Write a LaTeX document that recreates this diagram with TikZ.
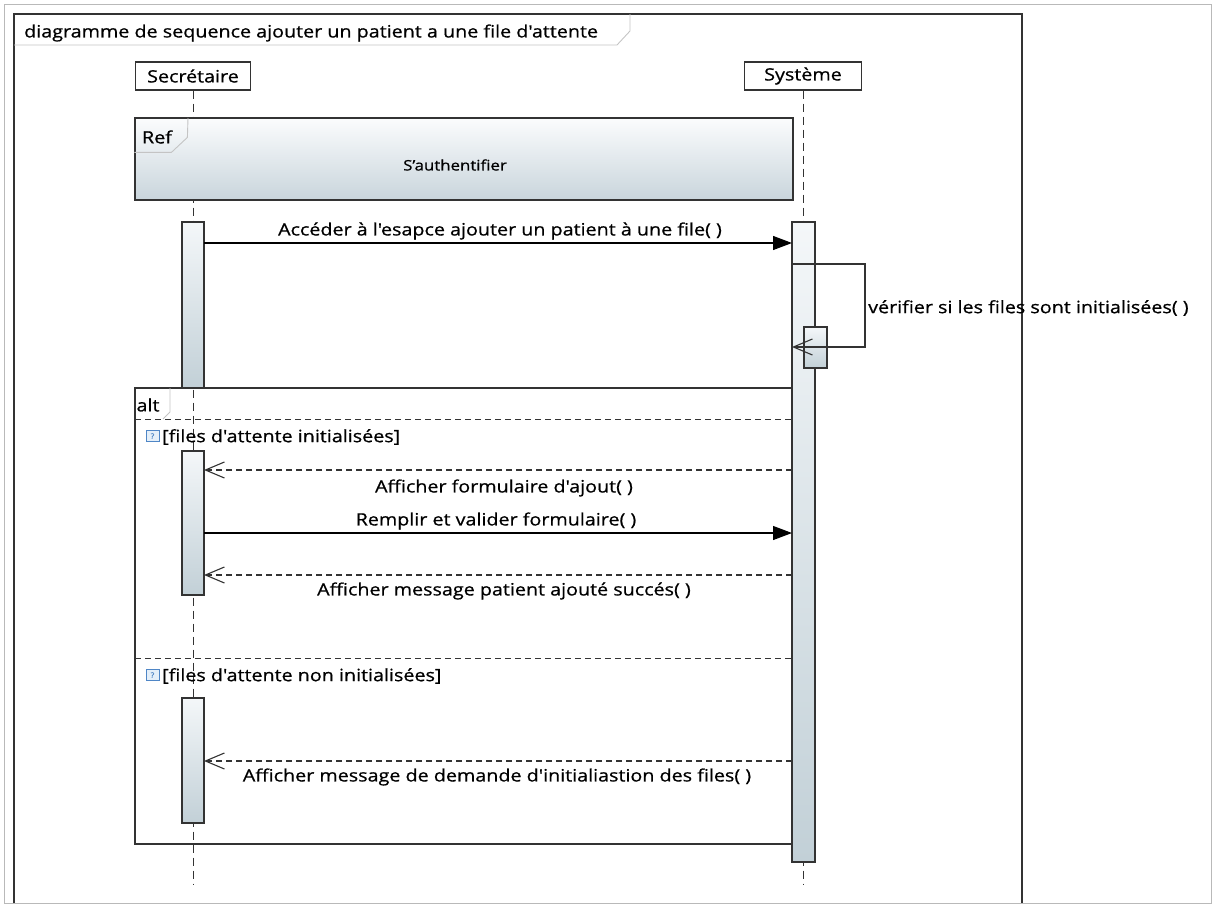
\documentclass[tikz,border=0pt]{standalone}
\usepackage{fontspec}
\newfontfamily\uifont{Open Sans}[FakeStretch=1.16, FakeBold=0.7]
\usetikzlibrary{arrows.meta}
\definecolor{lineclr}{HTML}{333333}
\definecolor{acttop}{HTML}{F4F7F9}
\definecolor{actbot}{HTML}{C2D0D7}
\definecolor{reftop}{HTML}{FBFCFD}
\definecolor{refbot}{HTML}{C9D5DC}
\definecolor{tabgray}{HTML}{C4C4C4}
\definecolor{iconfill}{HTML}{E4EFF9}
\definecolor{iconedge}{HTML}{4F86C6}

\tikzset{
  txt/.style={font=\uifont\fontsize{17}{20}\selectfont, inner sep=0pt},
  small/.style={font=\uifont\fontsize{14.5}{17}\selectfont, inner sep=0pt},
  headbox/.style={draw=lineclr, line width=1.2pt, fill=white, minimum width=115pt, minimum height=28pt, inner sep=0pt, font=\uifont\fontsize{17}{20}\selectfont},
  lifeline/.style={draw=lineclr, line width=1pt, dash pattern=on 8pt off 5pt},
  actbox/.style={draw=lineclr, line width=1.2pt, top color=acttop, bottom color=actbot, minimum width=22pt, inner sep=0pt},
  sync/.style={draw=black, line width=1.2pt, -{Triangle[length=19pt,width=14pt]}},
  reply/.style={draw=lineclr, line width=1.1pt, dash pattern=on 6pt off 4pt, -{Straight Barb[length=19pt,width=16pt,line width=1.1pt]}},
  selfret/.style={draw=lineclr, line width=1.2pt, -{Straight Barb[length=19pt,width=16pt,line width=1.1pt]}},
  fragline/.style={draw=lineclr, line width=1.2pt},
  guardsep/.style={draw=lineclr, line width=1pt, dash pattern=on 6pt off 4pt},
  tabline/.style={draw=tabgray, line width=0.9pt},
  guardicon/.style={draw=iconedge, fill=iconfill, line width=0.8pt, minimum width=13pt, minimum height=11pt, inner sep=0pt, font=\uifont\fontsize{7}{7}\selectfont, text=iconedge}
}

\begin{document}
\begin{tikzpicture}[x=1pt,y=-1pt]
\useasboundingbox (0,0) rectangle (1213,905);

% outer border and diagram frame
\draw[draw=gray!55, line width=0.9pt] (4,4) rectangle (1211,903);
\draw[fragline, line width=1.3pt] (14,903) -- (14,14) -- (1022,14) -- (1022,903);
\draw[tabline] (14,45) -- (617,45) -- (630,31) -- (630,14);
\node[txt, anchor=west] (title) at (24,33) {diagramme de sequence ajouter un patient a une file d'attente};

% lifeline heads
\node[headbox] (sec) at (193,76) {Secrétaire};
\node[headbox, minimum width=117pt] (sys) at (803,76) {Système};
\coordinate (secEnd) at (193,885);
\coordinate (sysEnd) at (803,885);
\draw[lifeline] (sec.south) -- (secEnd);
\draw[lifeline] (sys.south) -- (sysEnd);

% interaction use
\node[draw=lineclr, line width=1.2pt, top color=reftop, bottom color=refbot, minimum width=658pt, minimum height=82pt, inner sep=0pt] (ref) at (464,159) {};
\draw[tabline] (ref.north west) ++(0,35) -- ++(37,0) -- ++(16,-15) -- (188,118);
\node[small, font=\uifont\fontsize{17}{20}\selectfont] (reftag) at (157,137) {Ref};
\node[small] (refname) at (455,165) {S’authentifier};

% activations
\node[actbox, minimum height=166pt] (actS1) at (193,305) {};
\node[actbox, minimum width=23pt, minimum height=640pt] (actY) at (803.5,542) {};
\node[actbox, minimum height=144pt] (actS2) at (193,523) {};
\node[actbox, minimum height=125pt] (actS3) at (193,760.5) {};

% first call
\coordinate (m1a) at (204,243);
\coordinate (m1b) at (792,243);
\draw[sync] (m1a) -- (m1b);
\node[txt] (m1lbl) at (500,231) {Accéder à l'esapce ajouter un patient à une file( )};

% self call
\coordinate (s1a) at (792,264);
\coordinate (s1b) at (865,264);
\coordinate (s1c) at (865,347);
\coordinate (s1d) at (792,347);
\node[actbox, minimum width=23pt, minimum height=41pt] (actY2) at (815.5,347.5) {};
\draw[selfret] (s1a) -- (s1b) -- (s1c) -- (s1d);
\node[txt, anchor=west] (s1lbl) at (868,308) {vérifier si les files sont initialisées( )};

% alt fragment
\coordinate (altTL) at (135,388);
\coordinate (altTR) at (792,388);
\coordinate (altBL) at (135,844);
\coordinate (altBR) at (792,844);
\draw[fragline] (altTR) -- (altTL) -- (altBL) -- (altBR);
\draw[tabline] (163,419) -- (170,412) -- (170,388);
\node[txt] (alttag) at (148,405) {alt};
\coordinate (g1a) at (135,419);
\coordinate (g1b) at (792,419);
\draw[guardsep] (g1a) -- (g1b);
\coordinate (g2a) at (135,658);
\coordinate (g2b) at (792,658);
\draw[guardsep] (g2a) -- (g2b);

\node[guardicon] (ic1) at (152.5,436) {?};
\node[txt, anchor=west] (g1lbl) at (162,437) {[files d'attente initialisées]};
\node[guardicon] (ic2) at (152.5,675) {?};
\node[txt, anchor=west] (g2lbl) at (162,676) {[files d'attente non initialisées]};

% first operand
\coordinate (r1a) at (792,470);
\coordinate (r1b) at (204,470);
\draw[reply] (r1a) -- (r1b);
\node[txt] (r1lbl) at (504,488) {Afficher formulaire d'ajout( )};

\coordinate (m2a) at (204,533);
\coordinate (m2b) at (792,533);
\draw[sync] (m2a) -- (m2b);
\node[txt] (m2lbl) at (496,521) {Remplir et valider formulaire( )};

\coordinate (r2a) at (792,575);
\coordinate (r2b) at (204,575);
\draw[reply] (r2a) -- (r2b);
\node[txt] (r2lbl) at (504,591) {Afficher message patient ajouté succés( )};

% second operand
\coordinate (r3a) at (792,761);
\coordinate (r3b) at (204,761);
\draw[reply] (r3a) -- (r3b);
\node[txt] (r3lbl) at (497,777) {Afficher message de demande d'initialiastion des files( )};

\end{tikzpicture}
\end{document}
